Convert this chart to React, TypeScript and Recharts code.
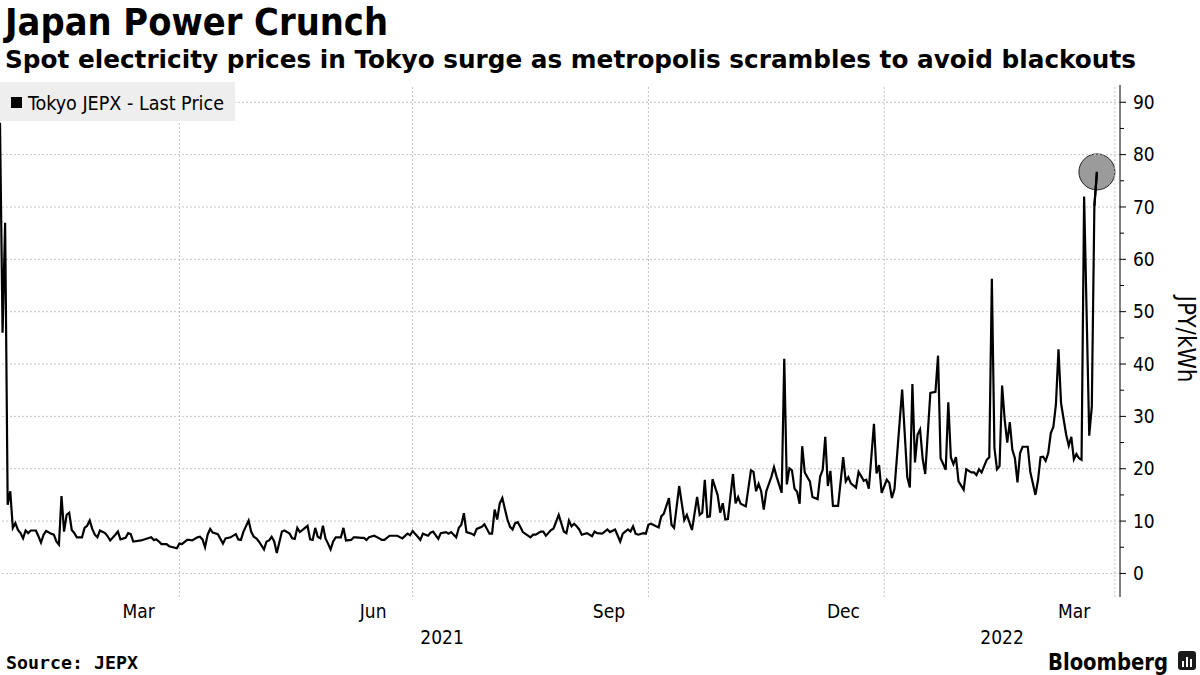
import React from 'react';
import { LineChart, Line, XAxis, YAxis, ReferenceLine, ReferenceDot } from 'recharts';

// ---------- data ----------
const seriesName = 'Tokyo JEPX - Last Price';
const title = 'Japan Power Crunch';
const subtitle = 'Spot electricity prices in Tokyo surge as metropolis scrambles to avoid blackouts';
const sourceText = 'Source: JEPX';
const yAxisTitle = 'JPY/kWh';

const dates = [
  '2021-01-21','2021-01-22','2021-01-23','2021-01-24','2021-01-25','2021-01-26','2021-01-27','2021-01-28','2021-01-29','2021-01-30','2021-01-31',
  '2021-02-01','2021-02-02','2021-02-04','2021-02-05','2021-02-06','2021-02-07','2021-02-08','2021-02-10','2021-02-11','2021-02-12','2021-02-13','2021-02-14','2021-02-15','2021-02-16','2021-02-17','2021-02-18','2021-02-19','2021-02-20','2021-02-22','2021-02-23','2021-02-24','2021-02-25','2021-02-26','2021-02-27','2021-02-28',
  '2021-03-01','2021-03-03','2021-03-04','2021-03-05','2021-03-07','2021-03-08','2021-03-09','2021-03-11','2021-03-12','2021-03-13','2021-03-14','2021-03-17','2021-03-21','2021-03-22','2021-03-23','2021-03-24','2021-03-25','2021-03-27','2021-03-28','2021-03-31',
  '2021-04-01','2021-04-02','2021-04-04','2021-04-05','2021-04-06','2021-04-08','2021-04-09','2021-04-10','2021-04-11','2021-04-12','2021-04-13','2021-04-14','2021-04-16','2021-04-18','2021-04-19','2021-04-21','2021-04-23','2021-04-24','2021-04-25','2021-04-26','2021-04-28','2021-04-29','2021-04-30',
  '2021-05-01','2021-05-02','2021-05-04','2021-05-05','2021-05-06','2021-05-07','2021-05-08','2021-05-09','2021-05-11','2021-05-12','2021-05-14','2021-05-15','2021-05-16','2021-05-17','2021-05-18','2021-05-19','2021-05-20','2021-05-21','2021-05-22','2021-05-23','2021-05-24','2021-05-25','2021-05-26','2021-05-27','2021-05-28','2021-05-29','2021-05-30','2021-05-31',
  '2021-06-01','2021-06-03','2021-06-04','2021-06-05','2021-06-07','2021-06-08','2021-06-09','2021-06-11','2021-06-12','2021-06-13','2021-06-14','2021-06-16','2021-06-18','2021-06-19','2021-06-20','2021-06-22','2021-06-25','2021-06-27','2021-06-29','2021-06-30',
  '2021-07-01','2021-07-03','2021-07-04','2021-07-05','2021-07-07','2021-07-08','2021-07-09','2021-07-11','2021-07-12','2021-07-14','2021-07-15','2021-07-16','2021-07-18','2021-07-19','2021-07-20','2021-07-21','2021-07-22','2021-07-24','2021-07-25','2021-07-26','2021-07-28','2021-07-29','2021-07-31',
  '2021-08-01','2021-08-02','2021-08-03','2021-08-04','2021-08-05','2021-08-06','2021-08-07','2021-08-08','2021-08-09','2021-08-10','2021-08-11','2021-08-12','2021-08-13','2021-08-16','2021-08-17','2021-08-18','2021-08-20','2021-08-21','2021-08-22','2021-08-24','2021-08-25','2021-08-27','2021-08-28','2021-08-29','2021-08-30','2021-08-31',
  '2021-09-01','2021-09-02','2021-09-03','2021-09-04','2021-09-05','2021-09-07','2021-09-09','2021-09-10','2021-09-11','2021-09-13','2021-09-15','2021-09-16','2021-09-18','2021-09-20','2021-09-21','2021-09-23','2021-09-24','2021-09-25','2021-09-26','2021-09-27','2021-09-29','2021-09-30',
  '2021-10-01','2021-10-02','2021-10-04','2021-10-05','2021-10-06','2021-10-07','2021-10-09','2021-10-10','2021-10-11','2021-10-13','2021-10-15','2021-10-16','2021-10-18','2021-10-20','2021-10-21','2021-10-22','2021-10-23','2021-10-24','2021-10-25','2021-10-26','2021-10-28','2021-10-29','2021-10-30','2021-10-31',
  '2021-11-01','2021-11-03','2021-11-04','2021-11-05','2021-11-06','2021-11-08','2021-11-10','2021-11-11','2021-11-12','2021-11-13','2021-11-14','2021-11-15','2021-11-16','2021-11-18','2021-11-19','2021-11-20','2021-11-22','2021-11-23','2021-11-24','2021-11-25','2021-11-26','2021-11-27','2021-11-28','2021-11-29','2021-11-30',
  '2021-12-01','2021-12-02','2021-12-03','2021-12-04','2021-12-06','2021-12-07','2021-12-08','2021-12-09','2021-12-10','2021-12-11','2021-12-12','2021-12-14','2021-12-16','2021-12-17','2021-12-18','2021-12-19','2021-12-21','2021-12-22','2021-12-23','2021-12-24','2021-12-25','2021-12-26','2021-12-28','2021-12-29','2021-12-30','2021-12-31',
  '2022-01-02','2022-01-03','2022-01-04','2022-01-05','2022-01-08','2022-01-10','2022-01-11','2022-01-12','2022-01-13','2022-01-14','2022-01-15','2022-01-16','2022-01-17','2022-01-19','2022-01-21','2022-01-22','2022-01-23','2022-01-25','2022-01-26','2022-01-27','2022-01-28','2022-01-29','2022-01-30',
  '2022-02-01','2022-02-02','2022-02-04','2022-02-05','2022-02-06','2022-02-07','2022-02-08','2022-02-10','2022-02-11','2022-02-12','2022-02-13','2022-02-14','2022-02-15','2022-02-16','2022-02-17','2022-02-18','2022-02-19','2022-02-20','2022-02-21','2022-02-22','2022-02-23','2022-02-24','2022-02-26','2022-02-27',
  '2022-03-01','2022-03-02','2022-03-03','2022-03-04','2022-03-05','2022-03-06','2022-03-07','2022-03-08','2022-03-09','2022-03-10','2022-03-11','2022-03-12','2022-03-13','2022-03-14','2022-03-15','2022-03-16','2022-03-17','2022-03-18','2022-03-19','2022-03-20','2022-03-22','2022-03-23','2022-03-24','2022-03-25',
];

const prices = [
  86.1,46.0,67.0,13.1,15.7,8.7,9.6,8.3,7.7,6.7,8.2,
  7.7,8.2,8.2,7.1,5.9,7.4,8.1,7.6,7.4,6.1,5.5,14.8,8.0,11.2,11.6,8.3,7.7,6.9,6.9,8.7,9.1,10.1,8.5,7.4,6.9,
  8.2,7.7,7.1,6.3,7.4,8.0,6.5,6.8,7.7,7.5,6.1,6.3,6.9,6.4,6.5,6.1,5.6,5.6,5.2,4.8,
  5.7,5.6,6.4,6.4,6.3,6.9,7.0,6.5,5.0,7.4,8.5,7.8,7.5,5.7,6.7,6.9,7.5,6.5,6.4,8.0,10.1,8.0,7.0,
  6.7,6.1,4.6,6.1,6.3,7.0,6.1,3.9,8.0,8.2,7.6,6.7,6.6,8.7,7.9,8.3,8.7,9.1,6.5,6.4,8.7,7.0,6.7,9.1,6.7,5.7,4.6,6.1,
  6.9,6.9,8.7,6.3,6.4,6.9,6.9,6.8,6.8,6.4,6.9,7.2,6.7,6.4,6.4,7.2,7.2,6.7,7.6,7.3,
  8.1,7.0,6.4,7.6,7.2,7.8,8.0,6.6,7.7,7.9,7.6,7.9,6.9,8.7,9.3,11.5,7.9,7.6,7.3,8.5,8.9,9.4,7.6,
  7.6,12.2,10.3,13.4,14.4,12.3,10.3,8.9,8.4,9.6,9.8,8.9,7.9,6.9,7.4,7.4,8.0,8.0,7.2,8.3,8.6,11.2,9.6,8.0,7.7,10.1,
  9.0,9.5,9.0,8.4,7.4,7.7,7.1,8.0,7.7,7.6,8.4,7.9,8.4,6.1,7.6,8.4,8.0,9.0,7.6,7.4,7.7,7.6,
  9.3,9.5,9.0,8.8,10.9,11.4,14.4,9.3,8.7,16.7,10.2,11.2,8.3,14.6,11.2,11.6,17.9,10.8,10.9,18.0,15.0,11.6,13.4,10.3,
  10.4,19.0,13.4,14.6,13.3,12.8,19.7,19.4,15.7,17.1,15.7,12.2,15.7,18.5,20.3,18.5,15.4,41.0,17.0,20.1,19.7,16.2,15.6,13.3,24.3,
  19.3,18.4,17.6,14.6,14.2,18.5,19.8,26.1,16.7,19.6,12.9,12.9,22.2,17.6,18.4,17.2,16.4,19.4,18.6,17.7,17.9,16.2,28.6,19.1,20.7,15.4,
  17.9,17.3,14.4,16.1,35.1,18.4,16.4,36.2,21.2,26.5,27.5,21.9,19.0,34.5,34.7,41.6,22.0,19.8,32.7,22.2,20.9,22.2,17.6,
  16.0,19.9,19.3,19.3,18.8,19.9,19.3,21.7,22.2,56.3,24.0,19.9,20.5,35.9,29.4,25.0,28.9,23.6,22.0,17.4,23.0,24.2,24.2,19.4,
  15.0,17.8,22.2,22.3,21.5,23.0,26.8,28.0,32.3,42.8,32.5,29.5,26.5,24.4,26.1,21.8,22.8,22.0,21.7,72.0,26.3,31.9,70.2,76.7,
];

const rangeStart = '2021-01-21';
const rangeEnd = '2022-04-03';
const monthLabels = ['Mar', 'Jun', 'Sep', 'Dec', 'Mar'];
const monthLabelStarts = ['2021-03-01', '2021-06-01', '2021-09-01', '2021-12-01', '2022-03-01'];
const monthLabelEnds = ['2021-04-01', '2021-07-01', '2021-10-01', '2022-01-01', '2022-04-01'];
const gridDates = ['2021-04-01', '2021-07-01', '2021-10-01', '2022-01-01', '2022-04-01'];
const yearLabels = ['2021', '2022'];
const yearStarts = ['2021-01-21', '2022-01-01'];
const yearEnds = ['2022-01-01', '2022-04-03'];
const yTicks = [0, 5, 10, 15, 20, 25, 30, 35, 40, 45, 50, 55, 60, 65, 70, 75, 80, 85, 90];
const yGrid = [0, 10, 20, 30, 40, 50, 60, 70, 80, 90];
const yDomain = [-4.5, 93.3];

// ---------- helpers ----------
const toDay = (s: string) => {
  const [y, m, d] = s.split('-').map(Number);
  return Date.UTC(y, m - 1, d) / 86400000;
};
const data = dates.map((d, i) => ({ t: toDay(d), v: prices[i] }));
const last = data[data.length - 1];
const prev = data[data.length - 2];
const xDomain = [toDay(rangeStart), toDay(rangeEnd)];
const monthTicks = monthLabelStarts.map((s, i) => (toDay(s) + toDay(monthLabelEnds[i])) / 2);
const yearTicks = yearStarts.map((s, i) => (toDay(s) + toDay(yearEnds[i])) / 2);

const AXIS_FONT = "'DejaVu Sans Condensed', 'DejaVu Sans', sans-serif";
const BOLD_FONT = "'DejaVu Sans', sans-serif";
const GRID = '#c4c4c4';
const LINE_W = 2.2;
const TICK_SIZE = 6;
const TICK_MARGIN = 7;

const YTick = (props: any) => {
  const { x, y, payload } = props;
  const axisX = x - TICK_SIZE - TICK_MARGIN;
  const major = payload.value % 10 === 0;
  return (
    <g>
      <line x1={axisX} x2={axisX + (major ? TICK_SIZE : 4)} y1={y} y2={y} stroke="#000" strokeWidth={1} />
      {major && (
        <text x={x} y={y} dy="0.355em" textAnchor="start" fontFamily={AXIS_FONT} fontSize={19} fill="#000" style={{ fontStretch: 'condensed' }}>
          {payload.value}
        </text>
      )}
    </g>
  );
};

const MonthTick = (props: any) => {
  const { x, y, payload } = props;
  const idx = monthTicks.indexOf(payload.value);
  return (
    <text x={x - 1} y={y} dy="0.71em" textAnchor="middle" fontFamily={AXIS_FONT} fontSize={19} fill="#000" style={{ fontStretch: 'condensed' }}>
      {monthLabels[idx]}
    </text>
  );
};

const YearTick = (props: any) => {
  const { x, y, payload } = props;
  const idx = yearTicks.indexOf(payload.value);
  return (
    <text x={x} y={y} dy="0.71em" textAnchor="middle" fontFamily={AXIS_FONT} fontSize={19} fill="#000" style={{ fontStretch: 'condensed' }}>
      {yearLabels[idx]}
    </text>
  );
};

export default function App() {
  return (
    <div style={{ position: 'absolute', left: 0, top: 0, width: 1200, height: 675, background: '#fff', overflow: 'hidden' }}>
      <div style={{ position: 'absolute', left: 0, top: 0 }}>
        <LineChart width={1200} height={675} data={data} margin={{ top: 85, right: 20, bottom: 22, left: 0 }}>
          <XAxis
            dataKey="t"
            type="number"
            domain={xDomain}
            allowDataOverflow
            ticks={monthTicks}
            interval={0}
            tick={<MonthTick />}
            tickLine={false}
            axisLine={false}
            height={26}
          />
          <XAxis
            xAxisId="yr"
            dataKey="t"
            type="number"
            domain={xDomain}
            allowDataOverflow
            ticks={yearTicks}
            interval={0}
            tick={<YearTick />}
            tickLine={false}
            axisLine={false}
            height={30}
          />
          <YAxis
            orientation="right"
            type="number"
            domain={yDomain}
            allowDataOverflow
            ticks={yTicks}
            interval={0}
            width={60}
            tickSize={TICK_SIZE}
            tickMargin={TICK_MARGIN}
            tickLine={false}
            axisLine={{ stroke: '#000', strokeWidth: 1 }}
            tick={<YTick />}
          />
          {yGrid.map((v) => (
            <ReferenceLine key={'h' + v} y={v} stroke={GRID} strokeDasharray="2 2" strokeWidth={1} />
          ))}
          {gridDates.map((d) => (
            <ReferenceLine key={'v' + d} x={toDay(d)} stroke={GRID} strokeDasharray="2 2" strokeWidth={1} />
          ))}
          <ReferenceDot {...({ zIndex: 300 } as any)} x={last.t} y={last.v} r={18} fill="#9b9b9b" stroke="#222" strokeWidth={1} />
          <Line
            type="linear"
            dataKey="v"
            name={seriesName}
            stroke="#000"
            strokeWidth={LINE_W}
            dot={false}
            activeDot={false}
            isAnimationActive={false}
          />
          <ReferenceLine
            {...({ zIndex: 700 } as any)}
            segment={[{ x: prev.t, y: prev.v }, { x: last.t, y: last.v }]}
            stroke="#000"
            strokeWidth={LINE_W}
          />
        </LineChart>
      </div>
      <svg width={1200} height={675} style={{ position: 'absolute', left: 0, top: 0, pointerEvents: 'none' }}>
        <text x={5} y={35} fontFamily={BOLD_FONT} fontWeight="bold" fontSize={37} fill="#000" textLength={383} lengthAdjust="spacingAndGlyphs">
          {title}
        </text>
        <text x={5} y={68} fontFamily={BOLD_FONT} fontWeight="bold" fontSize={24.5} fill="#000" textLength={1131} lengthAdjust="spacingAndGlyphs">
          {subtitle}
        </text>
        <rect x={0} y={82} width={235} height={39} fill="#eeeeee" />
        <rect x={11} y={97} width={11} height={11} fill="#000" />
        <text x={28} y={110} fontFamily={AXIS_FONT} fontSize={19} fill="#000" textLength={196} lengthAdjust="spacingAndGlyphs" style={{ fontStretch: 'condensed' }}>
          {seriesName}
        </text>
        <text
          transform="translate(1178,339) rotate(90)"
          x={0}
          y={0}
          textAnchor="middle"
          fontFamily={AXIS_FONT}
          fontSize={24}
          fill="#000"
          style={{ fontStretch: 'condensed' }}
        >
          {yAxisTitle}
        </text>
        <text x={6} y={669} fontFamily="'DejaVu Sans Mono', monospace" fontWeight="bold" fontSize={18} fill="#000" textLength={132} lengthAdjust="spacingAndGlyphs">
          {sourceText}
        </text>
        <text x={1048} y={670} fontFamily={AXIS_FONT} fontWeight="bold" fontSize={23} fill="#000" textLength={120} lengthAdjust="spacingAndGlyphs" style={{ fontStretch: 'condensed' }}>
          Bloomberg
        </text>
        <g>
          <rect x={1178} y={651} width={18} height={19} rx={3} fill="#1a1a1a" />
          <rect x={1182} y={661} width={2} height={6} fill="#fff" />
          <rect x={1186} y={657} width={2} height={10} fill="#fff" />
          <rect x={1190} y={659} width={2} height={8} fill="#fff" />
        </g>
      </svg>
    </div>
  );
}
